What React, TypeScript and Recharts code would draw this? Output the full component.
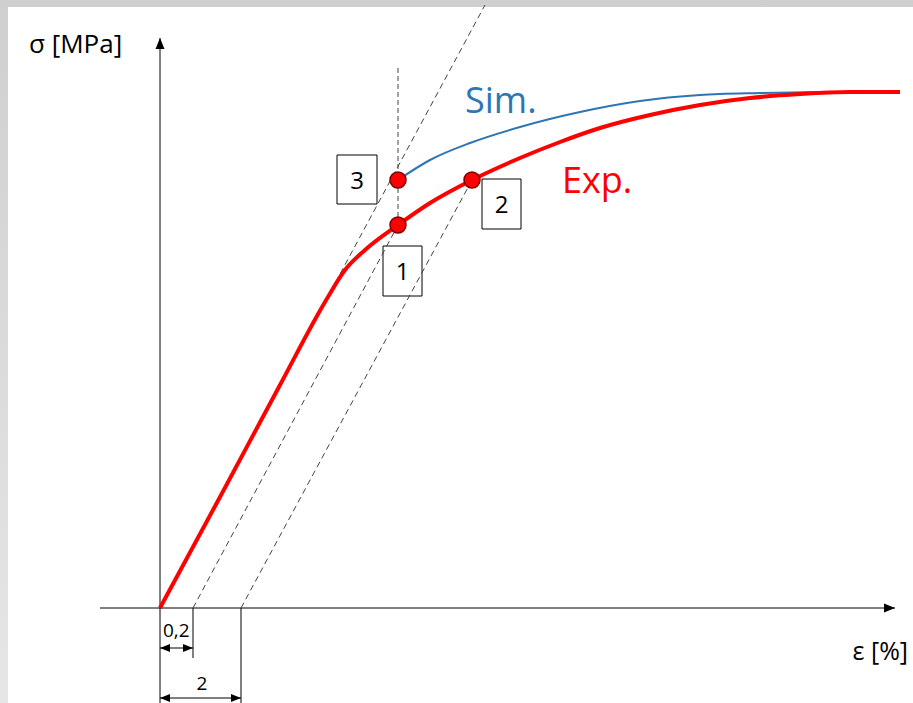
import React from 'react';
import {
	ComposedChart,
	Line,
	XAxis,
	YAxis,
	ReferenceLine,
	ReferenceArea,
	ReferenceDot,
} from 'recharts';

// schematic units: strain e and stress s, origin of the diagram at (0, 0)
const expCurve = [
	{ e: 0, s: 0 },
	{ e: 60, s: 111 },
	{ e: 120, s: 223 },
	{ e: 165, s: 306 },
	{ e: 185, s: 338 },
	{ e: 205, s: 358 },
	{ e: 238, s: 383 },
	{ e: 270, s: 405 },
	{ e: 312, s: 428 },
	{ e: 360, s: 450 },
	{ e: 400, s: 466 },
	{ e: 440, s: 480 },
	{ e: 490, s: 493 },
	{ e: 540, s: 503 },
	{ e: 590, s: 510 },
	{ e: 640, s: 514 },
	{ e: 690, s: 516 },
	{ e: 740, s: 516 },
];

const simCurve = [
	{ e: 238, s: 428 },
	{ e: 270, s: 448 },
	{ e: 310, s: 465 },
	{ e: 360, s: 481 },
	{ e: 420, s: 496 },
	{ e: 480, s: 507 },
	{ e: 540, s: 513 },
	{ e: 600, s: 515 },
	{ e: 660, s: 516 },
];

// marked points 1, 2, 3
const markPoints = [
	{ id: '1', e: 238, s: 383 },
	{ id: '2', e: 312, s: 428 },
	{ id: '3', e: 238, s: 428 },
];

// offset (elastic) lines: start on the strain axis, end at a marked point
const offsetLines = [
	{ e0: 0, e1: 325, s1: 603 },
	{ e0: 33, e1: 238, s1: 383 },
	{ e0: 81, e1: 312, s1: 428 },
];

const offsetLabels = ['0,2', '2'];

const W = 913;
const H = 703;
const FONT = '"Open Sans", sans-serif';
const RED = '#ff0000';
const BLUE = '#2e75b6';

const arrowLine =
	(start: boolean, end: boolean, size = 11, half = 4.5) =>
	(props: any) => {
		const { x1, y1, x2, y2 } = props;
		const ang = Math.atan2(y2 - y1, x2 - x1);
		const head = (x: number, y: number, a: number) => {
			const bx = x - size * Math.cos(a);
			const by = y - size * Math.sin(a);
			const px = -Math.sin(a) * half;
			const py = Math.cos(a) * half;
			return `${x},${y} ${bx + px},${by + py} ${bx - px},${by - py}`;
		};
		return (
			<g>
				<line x1={x1} y1={y1} x2={x2} y2={y2} stroke='#000' strokeWidth={1} />
				{end && <polygon points={head(x2, y2, ang)} fill='#000' />}
				{start && <polygon points={head(x1, y1, ang + Math.PI)} fill='#000' />}
			</g>
		);
	};

const textAt =
	(value: string, size: number, color: string, anchor: 'start' | 'middle' | 'end' = 'start') =>
	(p: any) => (
		<text
			x={p.cx}
			y={p.cy}
			fontSize={size}
			fill={color}
			fontFamily={FONT}
			textAnchor={anchor}
		>
			{value}
		</text>
	);

const boxes = [
	{ id: '3', e1: 177, e2: 217, s1: 404, s2: 453 },
	{ id: '2', e1: 322, e2: 361, s1: 379, s2: 429 },
	{ id: '1', e1: 223, e2: 262, s1: 312, s2: 362 },
];

const App = () => {
	return (
		<div
			style={{
				position: 'absolute',
				left: 0,
				top: 0,
				width: W,
				height: H,
				background: 'linear-gradient(to bottom, #cfcfcf, #e6e6e6)',
			}}
		>
			<div
				style={{
					position: 'absolute',
					left: 8,
					top: 7,
					right: 0,
					bottom: 0,
					background: '#fff',
				}}
			/>
			<div style={{ position: 'absolute', left: 0, top: 0 }}>
				<ComposedChart width={W} height={H} margin={{ top: 0, right: 0, bottom: 0, left: 0 }}>
					<XAxis type='number' dataKey='e' domain={[-160, 753]} allowDataOverflow hide />
					<YAxis type='number' dataKey='s' domain={[-95, 608]} allowDataOverflow hide />

					{/* axes */}
					<ReferenceLine segment={[{ x: -60, y: 0 }, { x: 735, y: 0 }]} shape={arrowLine(false, true)} />
					<ReferenceLine segment={[{ x: 0, y: 0 }, { x: 0, y: 570 }]} shape={arrowLine(false, true)} />

					{/* dimension lines */}
					<ReferenceLine segment={[{ x: 0, y: 0 }, { x: 0, y: -95 }]} stroke='#000' />
					<ReferenceLine segment={[{ x: offsetLines[1].e0, y: 0 }, { x: offsetLines[1].e0, y: -50 }]} stroke='#000' />
					<ReferenceLine segment={[{ x: offsetLines[2].e0, y: 0 }, { x: offsetLines[2].e0, y: -95 }]} stroke='#000' />
					<ReferenceLine segment={[{ x: 0, y: -40 }, { x: offsetLines[1].e0, y: -40 }]} shape={arrowLine(true, true, 10, 4)} />
					<ReferenceLine segment={[{ x: 0, y: -90 }, { x: offsetLines[2].e0, y: -90 }]} shape={arrowLine(true, true, 10, 4)} />

					{/* dashed construction lines */}
					{offsetLines.map((l, i) => (
						<ReferenceLine
							key={`off-${i}`}
							segment={[{ x: l.e0, y: 0 }, { x: l.e1, y: l.s1 }]}
							stroke='#444'
							strokeWidth={1}
							strokeDasharray='6 4'
						/>
					))}
					<ReferenceLine
						segment={[{ x: markPoints[0].e, y: markPoints[0].s }, { x: markPoints[0].e, y: 543 }]}
						stroke='#444'
						strokeWidth={1}
						strokeDasharray='5 3'
					/>

					<Line
						data={simCurve}
						dataKey='s'
						type='monotone'
						stroke={BLUE}
						strokeWidth={2}
						dot={false}
						activeDot={false}
						isAnimationActive={false}
					/>
					<Line
						data={expCurve}
						dataKey='s'
						type='monotone'
						stroke={RED}
						strokeWidth={4}
						dot={false}
						activeDot={false}
						isAnimationActive={false}
					/>

					{boxes.map((b) => (
						<ReferenceArea
							key={`box-${b.id}`}
							x1={b.e1}
							x2={b.e2}
							y1={b.s1}
							y2={b.s2}
							fill='#fff'
							fillOpacity={0}
							stroke='#000'
							strokeWidth={1}
						/>
					))}
					{boxes.map((b) => (
						<ReferenceDot
							key={`boxt-${b.id}`}
							x={(b.e1 + b.e2) / 2}
							y={(b.s1 + b.s2) / 2 - 9}
							r={0}
							shape={textAt(b.id, 24, '#000', 'middle')}
						/>
					))}

					{markPoints.map((p) => (
						<ReferenceDot
							key={`pt-${p.id}`}
							x={p.e}
							y={p.s}
							r={8}
							fill={RED}
							stroke='#7a0000'
							strokeWidth={1.5}
						/>
					))}

					{/* texts */}
					<ReferenceDot x={-131} y={555} r={0} shape={textAt('σ [MPa]', 26, '#000')} />
					<ReferenceDot x={305} y={495} r={0} shape={textAt('Sim.', 36, BLUE)} />
					<ReferenceDot x={402} y={415} r={0} shape={textAt('Exp.', 36, RED)} />
					<ReferenceDot x={748} y={-52} r={0} shape={textAt('ε [%]', 25, '#000', 'end')} />
					<ReferenceDot x={3} y={-29} r={0} shape={textAt(offsetLabels[0], 19, '#000')} />
					<ReferenceDot x={42} y={-82} r={0} shape={textAt(offsetLabels[1], 19, '#000', 'middle')} />
				</ComposedChart>
			</div>
		</div>
	);
};

export default App;
